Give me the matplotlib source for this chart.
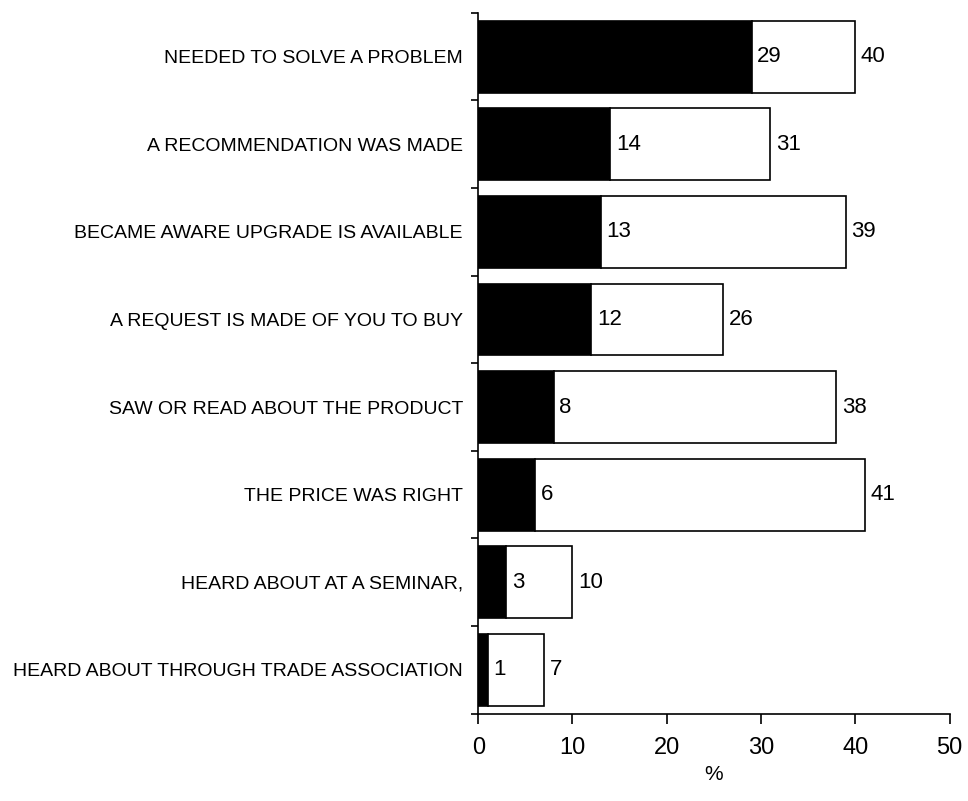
import numpy as np
import matplotlib
matplotlib.use("Agg")
import matplotlib.pyplot as plt

# reasons for buying, top to bottom
categories = [
    "NEEDED TO SOLVE A PROBLEM",
    "A RECOMMENDATION WAS MADE",
    "BECAME AWARE UPGRADE IS AVAILABLE",
    "A REQUEST IS MADE OF YOU TO BUY",
    "SAW OR READ ABOUT THE PRODUCT",
    "THE PRICE WAS RIGHT",
    "HEARD ABOUT AT A SEMINAR,",
    "HEARD ABOUT THROUGH TRADE ASSOCIATION",
]
primary = [29, 14, 13, 12, 8, 6, 3, 1]      # black part
total = [40, 31, 39, 26, 38, 41, 10, 7]     # end of white part
xticks = [0, 10, 20, 30, 40, 50]

plt.rcParams['font.family'] = ['Liberation Sans', 'DejaVu Sans']

fig = plt.figure(figsize=(9.68, 8.01), dpi=100)
ax = fig.add_axes([0.494, 0.109, 0.487, 0.875])

y = np.arange(len(categories))
h = 0.82
prim = np.array(primary)
tot = np.array(total)

ax.barh(y, prim, height=h, color='black', edgecolor='black', linewidth=1.2)
ax.barh(y, tot - prim, left=prim, height=h, color='white', edgecolor='black', linewidth=1.2)

for yi, p, t in zip(y, prim, tot):
    ax.text(p + 0.6, yi, str(p), va='center', ha='left', fontsize=16)
    ax.text(t + 0.6, yi, str(t), va='center', ha='left', fontsize=16)

ax.set_xlim(0, 50)
ax.set_ylim(len(categories) - 0.5, -0.5)

# category names at bar centres, small ticks between bars
ax.set_yticks(y)
ax.set_yticklabels(categories, fontsize=14)
ax.tick_params(axis='y', which='major', length=0, pad=11)
ax.set_yticks(np.arange(len(categories) + 1) - 0.5, minor=True)
ax.tick_params(axis='y', which='minor', length=5, width=1.2, direction='out')

ax.set_xticks(xticks)
ax.set_xticklabels([str(v) for v in xticks], fontsize=17)
ax.tick_params(axis='x', length=7, width=1.2, direction='out', pad=10)
ax.set_xlabel('%', fontsize=15, labelpad=4)

ax.spines['top'].set_visible(False)
ax.spines['right'].set_visible(False)
ax.spines['left'].set_linewidth(1.2)
ax.spines['bottom'].set_linewidth(1.2)

fig.savefig('out.png', dpi=100)
